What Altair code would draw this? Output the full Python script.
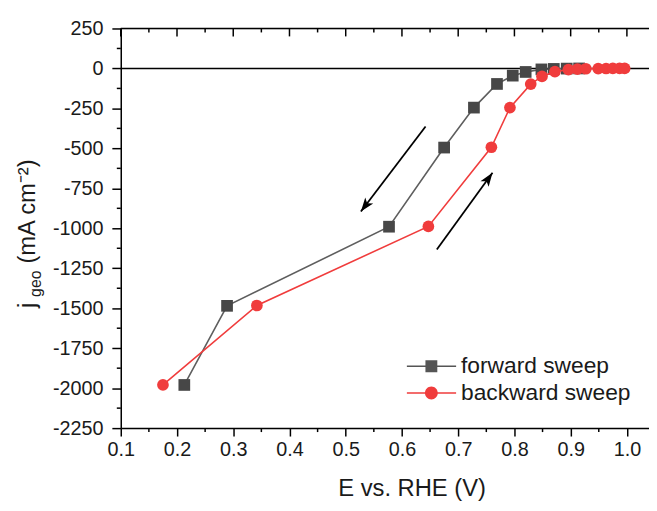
import altair as alt
import pandas as pd

FONT = "Liberation Sans"
TXT = "#1a1a1a"
GRAY_LINE = "#5e5e5e"
GRAY_MARK = "#474747"
RED = "#f03c3c"

W, H = 534, 404
X_MIN, X_MAX = 0.1, 1.0393
Y_MIN, Y_MAX = -2250, 250

series_names = ["forward sweep", "backward sweep"]

fwd_E = [0.213, 0.289, 0.577, 0.675, 0.728, 0.769, 0.797, 0.820, 0.848, 0.870, 0.893, 0.915]
fwd_j = [-1980, -1485, -990, -495, -245, -97, -45, -22, -6, -3, -1, 0]

bwd_E = [0.175, 0.342, 0.647, 0.759, 0.792, 0.829, 0.849, 0.872, 0.896, 0.912,
         0.927, 0.949, 0.963, 0.975, 0.987, 0.996]
bwd_j = [-1980, -1483, -988, -493, -245, -98, -50, -20, -8, -4,
         -2, -1, -0.5, 0, 0, 0]

x_major = [0.1, 0.2, 0.3, 0.4, 0.5, 0.6, 0.7, 0.8, 0.9, 1.0]
x_minor = [0.15, 0.25, 0.35, 0.45, 0.55, 0.65, 0.75, 0.85, 0.95]
y_major = [250, 0, -250, -500, -750, -1000, -1250, -1500, -1750, -2000, -2250]
y_minor = [125, -125, -375, -625, -875, -1125, -1375, -1625, -1875, -2125]

arrow_E = [0.642, 0.662]
arrow_j = [-363, -1132]
arrow_tip_E = [0.527, 0.761]
arrow_tip_j = [-895, -652]
arrow_angle = [217, 35]

df_f = pd.DataFrame({"E": fwd_E, "j": fwd_j, "series": series_names[0]})
df_b = pd.DataFrame({"E": bwd_E, "j": bwd_j, "series": series_names[1]})
df_all = pd.concat([df_f, df_b], ignore_index=True)
df_arrow = pd.DataFrame({"E": arrow_E, "j": arrow_j, "E2": arrow_tip_E,
                         "j2": arrow_tip_j, "ang": arrow_angle})

xs = alt.Scale(domain=[X_MIN, X_MAX], nice=False, zero=False)
ys = alt.Scale(domain=[Y_MIN, Y_MAX], nice=False, zero=False)

x_axis = alt.Axis(values=x_major, format=".1f", tickSize=8, tickWidth=1.5, tickColor="black",
                  domainColor="black", domainWidth=1.5, labelPadding=4, labelFontSize=20,
                  labelFont=FONT, labelColor=TXT, labelFlush=False, labelOverlap=False,
                  grid=False, title="E vs. RHE (V)", titleFont=FONT, titleFontSize=24,
                  titleFontWeight="normal", titleColor=TXT, titleX=294, titleY=68,
                  titleBaseline="alphabetic", titleAnchor="middle", titleAlign="center")
y_axis = alt.Axis(values=y_major, labelExpr="datum.value < 0 ? '-' + abs(datum.value) : '' + datum.value",
                  tickSize=9, tickWidth=1.5, tickColor="black", domainColor="black", domainWidth=1.5,
                  labelPadding=9, labelFontSize=20, labelFont=FONT, labelColor=TXT,
                  labelFlush=False, labelOverlap=False, grid=False, title=None)

x_enc = alt.X("E:Q", scale=xs, axis=x_axis)
y_enc = alt.Y("j:Q", scale=ys, axis=y_axis)

# frame and ticks
zero_line = alt.Chart(pd.DataFrame({"j": [0]})).mark_rule(color="black", strokeWidth=1.5).encode(y=y_enc)
top_frame = alt.Chart(pd.DataFrame({"a": [0]})).mark_rule(color="black", strokeWidth=1.5).encode(
    x=alt.value(0), x2=alt.value(W + 2), y=alt.value(0))
top_major = alt.Chart(pd.DataFrame({"E": x_major})).mark_rule(color="black", strokeWidth=1.5).encode(
    x=x_enc, y=alt.value(0), y2=alt.value(8))
top_minor = alt.Chart(pd.DataFrame({"E": x_minor})).mark_rule(color="black", strokeWidth=1.5).encode(
    x=x_enc, y=alt.value(0), y2=alt.value(4))
bot_minor = alt.Chart(pd.DataFrame({"E": x_minor})).mark_rule(color="black", strokeWidth=1.5).encode(
    x=x_enc, y=alt.value(H), y2=alt.value(H + 4))
left_minor = alt.Chart(pd.DataFrame({"j": y_minor})).mark_rule(color="black", strokeWidth=1.5).encode(
    y=y_enc, x=alt.value(-4), x2=alt.value(0))

# data
line_f = alt.Chart(df_f).mark_line(color=GRAY_LINE, strokeWidth=1.6).encode(x=x_enc, y=y_enc)
pts_f = alt.Chart(df_f).mark_point(shape="square", filled=True, size=140, color=GRAY_MARK,
                                   opacity=1).encode(x=x_enc, y=y_enc)
line_b = alt.Chart(df_b).mark_line(color=RED, strokeWidth=1.6).encode(x=x_enc, y=y_enc)
pts_b = alt.Chart(df_b).mark_point(shape="circle", filled=True, size=140, color=RED,
                                   opacity=1).encode(x=x_enc, y=y_enc)

# arrows
arrow_lines = alt.Chart(df_arrow).mark_rule(color="black", strokeWidth=1.8).encode(
    x=x_enc, y=y_enc, x2="E2:Q", y2="j2:Q")
HEAD = "M0,0L0.72,2L0,1.5L-0.72,2Z"
arrow_heads = alt.Chart(df_arrow).mark_point(shape=HEAD, filled=True, size=196, color="black",
                                             opacity=1).encode(
    x=alt.X("E2:Q", scale=xs, axis=x_axis), y=alt.Y("j2:Q", scale=ys, axis=y_axis),
    angle=alt.Angle("ang:Q", scale=None))

# legend
SQ = "M-1,-0.03H1V0.03H-1Z M-0.24,-0.24H0.24V0.24H-0.24Z"
CI = "M-1,-0.03H1V0.03H-1Z M-0.26,0A0.26,0.26 0 1,1 0.26,0A0.26,0.26 0 1,1 -0.26,0Z"
leg = alt.Legend(orient="none", legendX=289, legendY=328, title=None, symbolSize=2500,
                 symbolStrokeWidth=0, labelFontSize=23, labelFont=FONT, labelColor=TXT,
                 labelOffset=5, labelLimit=400, rowPadding=0, clipHeight=27, padding=0)
legend_layer = alt.Chart(df_all).transform_filter("false").mark_point(filled=True, opacity=1).encode(
    x=x_enc, y=y_enc,
    color=alt.Color("series:N", scale=alt.Scale(domain=series_names, range=["#555555", RED]), legend=leg),
    shape=alt.Shape("series:N", scale=alt.Scale(domain=series_names, range=[SQ, CI]), legend=leg))

# y title pieces
t_df = pd.DataFrame({"a": [0]})
yt_j = alt.Chart(t_df).mark_text(text="j", angle=270, fontSize=24, font=FONT, color=TXT,
                                 align="center", baseline="alphabetic").encode(
    x=alt.value(-87), y=alt.value(280))
yt_geo = alt.Chart(t_df).mark_text(text="geo", angle=270, fontSize=16, font=FONT, color=TXT,
                                   align="center", baseline="alphabetic").encode(
    x=alt.value(-81), y=alt.value(258))
yt_unit = alt.Chart(t_df).mark_text(text="(mA cm⁻²)", angle=270, fontSize=24, font=FONT, color=TXT,
                                    align="center", baseline="alphabetic").encode(
    x=alt.value(-87), y=alt.value(185))

chart = alt.layer(
    zero_line, top_frame, top_major, top_minor, bot_minor, left_minor,
    line_f, pts_f, line_b, pts_b, arrow_lines, arrow_heads, legend_layer,
    yt_j, yt_geo, yt_unit
).properties(
    width=W, height=H,
    padding={"left": 114, "top": 18, "right": 0, "bottom": 73},
    autosize=alt.AutoSizeParams(type="none")
).configure_view(stroke=None).configure(background="white")

chart.save("out.html", embed_options={"renderer": "svg", "actions": False})
